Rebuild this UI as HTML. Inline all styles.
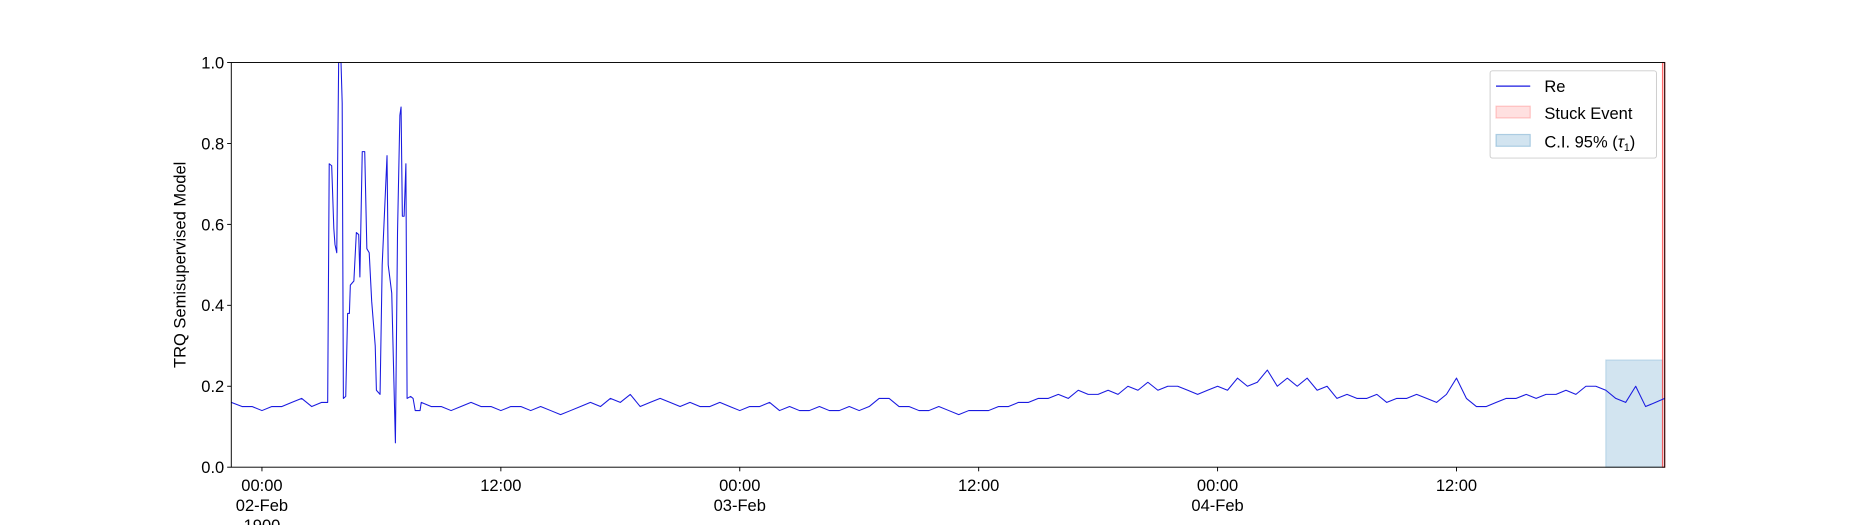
<!DOCTYPE html>
<html><head><meta charset="utf-8"><style>
html,body{margin:0;padding:0;background:#fff;}
svg{display:block;font-family:"Liberation Sans","DejaVu Sans",sans-serif;}
</style></head><body>
<svg id="chart" width="1850" height="525" viewBox="0 0 1568 445" xmlns="http://www.w3.org/2000/svg"></svg>
<script>
const preTimes=[-1.54,-1,-0.5,0,0.5,1,1.5,2,2.5,3,3.3];
const preValues=[0.16,0.15,0.15,0.14,0.15,0.15,0.16,0.17,0.15,0.16,0.16];
const spikeTimes=[3.38,3.50,3.61,3.67,3.76,3.85,3.97,4.03,4.09,4.21,4.30,4.39,4.44,4.62,4.74,4.86,4.92,5.04,5.16,5.27,5.39,5.51,5.69,5.75,5.93,6.04,6.28,6.34,6.52,6.70,6.81,6.93,6.99,7.05,7.14,7.23,7.29,7.47,7.59,7.70,7.94];
const spikeValues=[0.75,0.745,0.59,0.55,0.53,1.0,1.0,0.9,0.17,0.175,0.38,0.38,0.45,0.46,0.58,0.575,0.47,0.78,0.78,0.54,0.53,0.41,0.3,0.19,0.18,0.5,0.77,0.5,0.43,0.06,0.58,0.87,0.89,0.62,0.62,0.75,0.17,0.175,0.17,0.14,0.14];
const baseStart=8, baseStep=0.5;
const baseValues=[0.16,0.15,0.15,0.14,0.15,0.16,0.15,0.15,0.14,0.15,0.15,0.14,0.15,0.14,0.13,0.14,0.15,0.16,0.15,0.17,0.16,0.18,0.15,0.16,0.17,0.16,0.15,0.16,0.15,
0.15,0.16,0.15,0.14,0.15,0.15,0.16,0.14,0.15,0.14,0.14,0.15,0.14,0.14,0.15,0.14,0.15,0.17,0.17,0.15,
0.15,0.14,0.14,0.15,0.14,0.13,0.14,0.14,0.14,0.15,0.15,0.16,0.16,0.17,0.17,0.18,0.17,0.19,0.18,0.18,
0.19,0.18,0.2,0.19,0.21,0.19,0.2,0.2,0.19,0.18,0.19,0.2,0.19,0.22,0.2,0.21,0.24,0.2,0.22,0.2,
0.22,0.19,0.2,0.17,0.18,0.17,0.17,0.18,0.16,0.17,0.17,0.18,0.17,0.16,0.18,0.22,0.17,0.15,0.15,0.16,
0.17,0.17,0.18,0.17,0.18,0.18,0.19,0.18,0.2,0.2,0.19,0.17,0.16,0.2,0.15,0.16,0.17];
const yTicks=[0,0.2,0.4,0.6,0.8,1.0];
const xTickHours=[0,12,24,36,48,60];
const xTickLabels=[["00:00","02-Feb","1900"],["12:00"],["00:00","03-Feb"],["12:00"],["00:00","04-Feb"],["12:00"]];
const ciRange=[67.5,70.35]; const ciUpper=0.265;
const stuckRange=[70.35,70.46];
const xDomain=[-1.54,70.46];

const L=196,R=1411,T=53,B=396;
const sx=h=>L+(h-xDomain[0])/(xDomain[1]-xDomain[0])*(R-L);
const sy=v=>B-v*(B-T);
const svg=document.getElementById('chart');
const NS='http://www.w3.org/2000/svg';
function mk(tag,attrs,parent){const e=document.createElementNS(NS,tag);for(const k in attrs)e.setAttribute(k,attrs[k]);(parent||svg).appendChild(e);return e;}
const FS=14;

const ci=mk('rect',{x:sx(ciRange[0]),y:sy(ciUpper),width:sx(ciRange[1])-sx(ciRange[0]),height:sy(0)-sy(ciUpper),fill:'#1f77b4','fill-opacity':0.2,stroke:'#1f77b4','stroke-opacity':0.2});


const st=mk('rect',{x:sx(stuckRange[0]),y:T,width:sx(stuckRange[1])-sx(stuckRange[0]),height:B-T,fill:'#ff0000','fill-opacity':0.15,stroke:'#ff3030','stroke-opacity':0.7});



const times=[...preTimes,...spikeTimes], vals=[...preValues,...spikeValues];
baseValues.forEach((v,i)=>{times.push(baseStart+i*baseStep);vals.push(v);});
const pts=times.map((t,i)=>sx(Math.min(t,xDomain[1])).toFixed(1)+','+sy(vals[i]).toFixed(1)).join(' ');
const line=mk('polyline',{points:pts,fill:'none',stroke:'#1a1ae0',"stroke-width":0.9,"stroke-linejoin":'round'});



const ax=mk('rect',{x:L,y:T,width:R-L,height:B-T,fill:'none',stroke:'#000','stroke-width':0.8});



yTicks.forEach(v=>{
  mk('line',{x1:L-3.5,x2:L,y1:sy(v),y2:sy(v),stroke:'#000','stroke-width':0.8});
  const t=mk('text',{x:L-6,y:sy(v)+5,'text-anchor':'end','font-size':FS});
  t.textContent=v.toFixed(1);
  
  
});
xTickHours.forEach((h,i)=>{
  mk('line',{x1:sx(h),x2:sx(h),y1:B,y2:B+3.5,stroke:'#000','stroke-width':0.8});
  xTickLabels[i].forEach((s,j)=>{
    const t=mk('text',{x:sx(h),y:B+20+j*17,'text-anchor':'middle','font-size':FS});
    t.textContent=s;
    
    
  });
});
const yl=mk('text',{x:0,y:0,transform:`translate(157,${(T+B)/2}) rotate(-90)`,'text-anchor':'middle','font-size':FS});
yl.textContent='TRQ Semisupervised Model';



const lg=mk('g',{});


mk('rect',{x:1263,y:60,width:141,height:74,rx:2,fill:'#fff','fill-opacity':0.8,stroke:'#ccc','stroke-width':0.8},lg);
mk('line',{x1:1268,x2:1297,y1:73,y2:73,stroke:'#1a1ae0','stroke-width':1},lg);
mk('rect',{x:1268,y:90,width:29,height:10,fill:'#ff0000','fill-opacity':0.12,stroke:'#ff0000','stroke-opacity':0.2},lg);
mk('rect',{x:1268,y:114,width:29,height:10,fill:'#1f77b4','fill-opacity':0.2,stroke:'#1f77b4','stroke-opacity':0.3},lg);
[['Re',78],['Stuck Event',101]].forEach(([s,y])=>{
  const t=mk('text',{x:1309,y:y,'font-size':FS},lg);
  t.textContent=s;
  
  
});
const ct=mk('text',{x:1309,y:125,'font-size':FS},lg);
ct.innerHTML='C.I. 95% (<tspan font-style="italic">τ</tspan><tspan font-size="9" dy="3">1</tspan><tspan dy="-3">)</tspan>';


</script>
</body></html>
